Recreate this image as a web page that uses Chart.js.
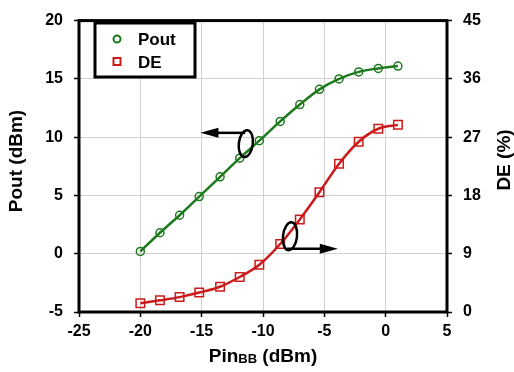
<!DOCTYPE html>
<html>
<head>
<meta charset="utf-8">
<script src="https://cdn.jsdelivr.net/npm/chart.js@4.4.0/dist/chart.umd.min.js"></script>
<style>
  html, body { margin: 0; padding: 0; background: #fff; }
  #wrap { width: 514px; height: 372px; }
</style>
</head>
<body>
<div id="wrap"><canvas id="chart"></canvas></div>
<script>
// Pin_BB (dBm) sweep and measured results
const pinBB = [-20, -18.4, -16.8, -15.2, -13.5, -11.9, -10.3, -8.6, -7.0, -5.4, -3.8, -2.2, -0.6, 1.0];
const pout  = [0.2, 1.8, 3.3, 4.9, 6.6, 8.2, 9.7, 11.35, 12.8, 14.1, 15.0, 15.6, 15.9, 16.1];
const de    = [1.35, 1.8, 2.3, 3.0, 3.9, 5.4, 7.3, 10.5, 14.3, 18.5, 22.9, 26.3, 28.3, 28.9];

const xTicks    = [-25, -20, -15, -10, -5, 0, 5];
const poutTicks = [-5, 0, 5, 10, 15, 20];
const deTicks   = [0, 9, 18, 27, 36, 45];

const GREEN = "#1c7a1c";
const RED = "#cc1a1a";
const FONT = "'Liberation Sans', Arial, sans-serif";

// annotation anchors in data units: [x, y on left axis]
const poutMark = { x: -11.4, y: 9.45, arrowY: 10.37, from: -11.45, to: -15.1 };
const deMark   = { x: -7.8, y: 11.7, arrowY: 9.75, from: -8.05, to: -3.9 };

function arrow(ctx, x1, x2, y) {
    const dir = x2 < x1 ? -1 : 1;
    ctx.beginPath();
    ctx.moveTo(x1, y);
    ctx.lineTo(x2 - dir * 14, y);
    ctx.stroke();
    ctx.beginPath();
    ctx.moveTo(x2, y);
    ctx.lineTo(x2 - dir * 18, y - 5);
    ctx.lineTo(x2 - dir * 18, y + 5);
    ctx.closePath();
    ctx.fill();
}

const decor = {
    id: "decor",
    afterDraw(chart) {
        const { ctx, chartArea: a, scales } = chart;
        const x = scales.x, yl = scales.y, yr = scales.y2;
        ctx.save();

        // frame
        ctx.strokeStyle = "#000";
        ctx.lineWidth = 3;
        ctx.strokeRect(a.left, a.top, a.right - a.left, a.bottom - a.top);

        // ellipses + arrows
        ctx.lineWidth = 2.5;
        ctx.fillStyle = "#000";
        ctx.beginPath();
        ctx.ellipse(x.getPixelForValue(poutMark.x), yl.getPixelForValue(poutMark.y), 7, 13.5, 0.12, 0, Math.PI * 2);
        ctx.stroke();
        arrow(ctx, x.getPixelForValue(poutMark.from), x.getPixelForValue(poutMark.to), yl.getPixelForValue(poutMark.arrowY));

        ctx.beginPath();
        ctx.ellipse(x.getPixelForValue(deMark.x), yr.getPixelForValue(deMark.y), 7, 14, 0.12, 0, Math.PI * 2);
        ctx.stroke();
        arrow(ctx, x.getPixelForValue(deMark.from), x.getPixelForValue(deMark.to), yr.getPixelForValue(deMark.arrowY));

        // legend box
        ctx.fillStyle = "#fff";
        ctx.fillRect(95, 23, 100, 54);
        ctx.lineWidth = 3;
        ctx.strokeRect(95, 23, 100, 54);
        ctx.lineWidth = 2;
        ctx.strokeStyle = GREEN;
        ctx.beginPath();
        ctx.arc(117, 39, 3.5, 0, Math.PI * 2);
        ctx.stroke();
        ctx.strokeStyle = RED;
        ctx.strokeRect(113.5, 58, 7, 7);
        ctx.fillStyle = "#000";
        ctx.font = "bold 17px " + FONT;
        ctx.textAlign = "left";
        ctx.textBaseline = "middle";
        ctx.fillText("Pout", 138, 40);
        ctx.fillText("DE", 138, 63);

        // axis titles
        ctx.font = "bold 19px " + FONT;
        ctx.textAlign = "center";
        ctx.save();
        ctx.translate(17, 161);
        ctx.rotate(-Math.PI / 2);
        ctx.fillText("Pout (dBm)", 0, 0);
        ctx.restore();
        ctx.save();
        ctx.translate(505, 160);
        ctx.rotate(-Math.PI / 2);
        ctx.fillText("DE (%)", 0, 0);
        ctx.restore();

        // Pin_BB (dBm)
        const big = "bold 19px " + FONT, small = "bold 13px " + FONT;
        ctx.textAlign = "left";
        ctx.textBaseline = "alphabetic";
        ctx.font = big;
        const w1 = ctx.measureText("Pin").width, w3 = ctx.measureText(" (dBm)").width;
        ctx.font = small;
        const w2 = ctx.measureText("BB").width;
        let sx = (a.left + a.right) / 2 - (w1 + w2 + w3) / 2;
        const by = 362;
        ctx.font = big;
        ctx.fillText("Pin", sx, by);
        ctx.font = small;
        ctx.fillText("BB", sx + w1, by + 1);
        ctx.font = big;
        ctx.fillText(" (dBm)", sx + w1 + w2, by);

        ctx.restore();
    }
};

const tickFont = { family: FONT, size: 16, weight: "bold" };

new Chart(document.getElementById("chart"), {
    type: "line",
    data: {
        datasets: [
            {
                label: "Pout",
                data: pinBB.map((v, i) => ({ x: v, y: pout[i] })),
                yAxisID: "y",
                borderColor: GREEN,
                backgroundColor: "transparent",
                borderWidth: 2.5,
                pointStyle: "circle",
                pointRadius: 4,
                pointBorderWidth: 1.5,
                pointBorderColor: GREEN,
                cubicInterpolationMode: "monotone"
            },
            {
                label: "DE",
                data: pinBB.map((v, i) => ({ x: v, y: de[i] })),
                yAxisID: "y2",
                borderColor: RED,
                backgroundColor: "transparent",
                borderWidth: 2.5,
                pointStyle: "rect",
                pointRadius: 6,
                pointBorderWidth: 1.5,
                pointBorderColor: RED,
                cubicInterpolationMode: "monotone"
            }
        ]
    },
    options: {
        responsive: true,
        maintainAspectRatio: false,
        animation: false,
        layout: { padding: { top: 13, left: 0, right: 0, bottom: 0 } },
        plugins: { legend: { display: false }, tooltip: { enabled: false } },
        scales: {
            x: {
                type: "linear",
                min: xTicks[0],
                max: xTicks[xTicks.length - 1],
                afterBuildTicks: s => { s.ticks = xTicks.map(v => ({ value: v })); },
                afterFit: s => { s.height = 60; },
                grid: { color: "#d0d0d0", lineWidth: 1, tickLength: 5, tickColor: "#000", tickWidth: 1.5 },
                border: { display: false },
                ticks: { font: tickFont, color: "#000", padding: 5, maxRotation: 0 }
            },
            y: {
                position: "left",
                min: poutTicks[0],
                max: poutTicks[poutTicks.length - 1],
                afterBuildTicks: s => { s.ticks = poutTicks.map(v => ({ value: v })); },
                afterFit: s => { s.width = 79; },
                grid: { color: "#d0d0d0", lineWidth: 1, tickLength: 5, tickColor: "#000", tickWidth: 1.5 },
                border: { display: false },
                ticks: { font: tickFont, color: "#000", padding: 11 }
            },
            y2: {
                position: "right",
                min: deTicks[0],
                max: deTicks[deTicks.length - 1],
                afterBuildTicks: s => { s.ticks = deTicks.map(v => ({ value: v })); },
                afterFit: s => { s.width = 67; },
                grid: { drawOnChartArea: false, tickLength: 5, tickColor: "#000", tickWidth: 1.5 },
                border: { display: false },
                ticks: { font: tickFont, color: "#000", padding: 11 }
            }
        }
    },
    plugins: [decor]
});
</script>
</body>
</html>
